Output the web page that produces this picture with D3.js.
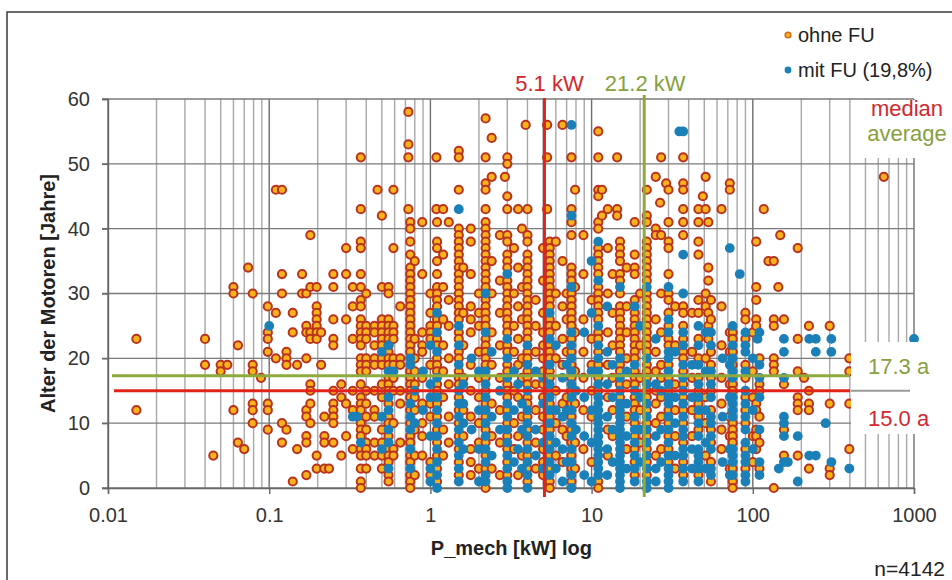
<!DOCTYPE html>
<html>
<head>
<meta charset="utf-8">
<script src="https://cdn.jsdelivr.net/npm/d3@7"></script>
<style>
  html, body { margin: 0; padding: 0; background: #fff; }
  svg { display: block; font-family: "Liberation Sans", Arial, sans-serif; }
</style>
</head>
<body>
<script>
// ---- data -----------------------------------------------------------------
// P_mech in kW and motor age in years, one entry per column of dots

var ohneKW = [0.015, 0.04, 0.045, 0.05, 0.055, 0.06, 0.064, 0.07, 0.074, 0.079, 0.089, 0.098,
  0.11, 0.12, 0.128, 0.14, 0.149, 0.16, 0.17, 0.18, 0.197, 0.21, 0.22, 0.235, 0.25, 0.28, 0.3,
  0.33, 0.37, 0.4, 0.45, 0.47, 0.5, 0.55, 0.59, 0.65, 0.73, 0.75, 0.8, 0.89, 1.0, 1.09, 1.1,
  1.2, 1.3, 1.5, 1.6, 1.78, 2.0, 2.2, 2.4, 2.7, 2.9, 3.0, 3.3, 3.5, 3.7, 3.9, 4.0, 4.5, 5.0,
  5.3, 5.5, 6.0, 6.6, 7.0, 7.5, 7.9, 8.9, 10, 11, 11.6, 12.6, 13.5, 14.4, 15, 16.5, 18.5, 20,
  22, 25, 26.6, 27, 29, 30, 33, 37, 42, 46, 49, 51, 53, 55, 64, 72, 75, 90, 100, 105, 110, 117,
  125, 135, 144, 148, 156, 190, 208, 223, 300, 397, 650]

var ohneJahre = [
  [23, 12], [23, 19], [5], [19, 18], [19], [31, 30, 12], [22, 7], [6], [34],
  [30, 19, 18, 13, 12, 10], [17], [28, 24, 23, 21, 13, 12, 9],
  [46, 27, 20], [46, 33, 30, 10, 7], [21, 20, 19, 9], [27, 24, 1], [19, 6], [33, 30],
  [30, 25, 24, 20, 12, 11, 8, 7, 2], [39, 31, 24, 23, 16, 15, 13, 10],
  [31, 28, 27, 26, 25, 24, 23, 5, 3], [24, 19], [11, 8, 7, 3], [3],
  [33, 31, 26, 23, 22, 15, 13, 12, 11, 10, 7], [16, 14, 5], [37, 33, 26, 13, 8],
  [31, 28, 23, 15, 12, 6],
  [51, 43, 38, 37, 33, 31, 29, 28, 26, 25, 24, 23, 22, 20, 19, 18, 16, 14, 13, 12, 10, 9, 8, 6, 5, 3, 1, 0],
  [30, 25, 24, 23, 20, 19, 18, 15, 13, 11, 9, 7, 6, 5, 3],
  [25, 24, 22, 20, 19, 15, 12, 11, 7, 5], [46],
  [42, 31, 26, 25, 24, 23, 22, 20, 19, 16, 14, 9, 7, 5, 3],
  [31, 30, 26, 25, 24, 23, 22, 21, 20, 19, 17, 16, 15, 13, 11, 10, 8, 6, 5, 4, 2, 1],
  [46, 37, 25, 24, 23, 20, 19, 17, 15, 10, 6, 5],
  [28, 20, 19, 15, 13, 7],
  [58, 53, 51, 43],
  [41, 40, 38, 36, 34, 33, 32, 31, 30, 29, 28, 27, 26, 25, 24, 23, 22, 21, 18, 17, 16, 15, 14, 12, 10, 8, 7, 5, 4, 2, 1, 0],
  [35, 23, 20, 18, 16, 14, 12, 9, 5, 2],
  [41, 33, 24, 22, 21, 17, 13, 10, 8, 5],
  [30, 27, 25, 24, 23, 19, 13, 11, 4, 2],
  [51, 43],
  [41, 38, 37, 35, 33, 31, 30, 29, 28, 26, 25, 23, 22, 20, 19, 18, 16, 15, 13, 11, 9, 7, 5, 3, 1],
  [43, 36, 31, 26, 22, 18, 14, 9, 5],
  [41, 29, 25, 20, 16, 11, 7],
  [52, 51, 46, 40, 39, 38, 37, 36, 35, 34, 33, 32, 31, 30, 29, 28, 27, 26, 24, 23, 21, 20, 18, 17, 16, 14, 12, 10, 8, 6, 4, 2],
  [34, 27, 22, 17, 12, 8],
  [40, 38, 33, 28, 26, 24, 19, 15, 11, 6, 4, 2],
  [30, 27, 25, 21, 17, 14, 10, 7, 3],
  [57, 51, 47, 46, 43, 41, 40, 39, 38, 37, 36, 35, 34, 33, 32, 31, 29, 28, 27, 26, 25, 23, 22, 21, 20, 19, 17, 15, 13, 11, 9, 7, 5, 3, 0],
  [54, 48, 35, 30, 24, 19, 13, 8, 3],
  [39, 32, 27, 22, 17, 12, 7, 2],
  [48],
  [51, 50, 45, 43, 39, 38, 36, 35, 34, 32, 31, 30, 29, 28, 27, 26, 25, 24, 22, 21, 19, 18, 16, 15, 14, 12, 10, 8, 6, 4, 2],
  [37, 30, 25, 21, 15, 10, 6],
  [43, 34, 28, 23, 19, 14, 8, 2],
  [40, 31, 26, 20, 17, 11, 5],
  [56],
  [43, 39, 38, 36, 35, 34, 33, 32, 31, 30, 29, 28, 27, 26, 25, 24, 23, 21, 20, 18, 17, 16, 14, 13, 11, 9, 7, 5, 3, 1],
  [29, 25, 21, 16, 12, 7, 3],
  [37, 32, 27, 24, 22, 20, 18, 16, 14, 11, 9, 6, 4, 2],
  [56, 51, 43],
  [38, 37, 36, 35, 34, 33, 32, 31, 30, 29, 28, 26, 25, 24, 22, 21, 20, 18, 17, 15, 13, 11, 9, 7, 5, 3, 1, 0],
  [38, 30, 25, 20, 15, 10, 5],
  [56, 35, 28, 23, 19, 13, 9, 4],
  [30, 26, 21, 14, 8],
  [51, 43, 41, 39, 34, 33, 32, 30, 29, 28, 27, 26, 25, 23, 21, 19, 17, 15, 13, 11, 9, 7, 5, 3, 1],
  [46, 31, 24, 18, 13, 7, 3],
  [39, 33, 26, 21, 17, 12, 6],
  [29, 23, 19, 15, 11, 4],
  [55, 51, 46, 45, 41, 40, 37, 36, 35, 34, 33, 31, 30, 29, 28, 27, 26, 24, 23, 21, 19, 17, 15, 1, 0],
  [46, 42],
  [43, 37, 30, 24, 19, 14, 9, 5],
  [33, 27, 22, 17, 12, 8],
  [51, 43, 42],
  [38, 37, 36, 35, 33, 32, 30, 28, 27, 26, 25, 24, 23, 22, 21, 19, 18, 16, 14],
  [34, 28, 24, 20, 16, 11, 6],
  [41, 36, 34, 33, 29, 27, 26, 25, 24, 23, 22, 21, 20, 18, 17, 16, 14, 13, 12, 10, 8, 6, 4, 2],
  [30, 22, 17, 12, 7],
  [46, 42, 41, 38, 37, 36, 35, 34, 33, 32, 30, 29, 28, 27, 26, 25, 24, 23, 22, 21, 19, 18, 17, 15, 14, 12, 10, 8, 6, 4, 2],
  [48, 40, 39, 26, 21, 18, 15, 13, 10, 5],
  [44],
  [51, 39, 30, 24, 19, 17, 14, 11, 6],
  [47],
  [46, 41, 38, 37, 33, 30, 29, 27, 25, 23, 22, 19, 17, 15, 12, 10, 8, 6, 4],
  [28, 22, 16, 12, 8, 3],
  [51, 47, 46, 43, 41, 39, 28, 27, 25, 23, 21, 20, 18, 16, 14, 12, 10, 7, 4, 2],
  [27, 21, 17, 12, 8],
  [43, 41, 38, 36, 29, 27, 23, 20, 17, 15, 13, 11, 9, 2],
  [45],
  [48, 43, 30, 28, 20, 14, 10, 5],
  [41, 34, 32, 27, 25, 24, 23],
  [29, 26, 21, 19, 17, 15, 12, 9, 7, 4, 1],
  [43, 28, 22, 17, 13, 9, 6],
  [47, 46, 24, 21, 16, 11, 8, 3],
  [24, 23, 21, 19, 16, 15, 10, 9, 8, 7, 3, 1, 0],
  [27, 26, 23, 19, 17, 14, 12, 10, 6, 3],
  [24, 18, 14, 8, 4],
  [38, 31, 29, 26, 25, 13, 12, 9, 8, 6],
  [20, 16, 15, 11, 7, 3],
  [43],
  [35],
  [35, 26, 25, 20, 19, 18, 0],
  [31],
  [39],
  [26, 16, 9, 5],
  [37, 23, 18, 14, 13, 12, 5],
  [17],
  [25, 15, 13, 12, 3],
  [25, 13, 3, 2],
  [20, 18, 13, 6],
  [48]
]

var mitKW = [0.1, 0.33, 0.35, 0.37, 0.5, 0.55, 0.59, 0.75, 0.8, 0.9, 1.0, 1.1, 1.5, 1.6, 1.8,
  2.0, 2.2, 2.4, 2.7, 3.0, 3.3, 3.5, 3.7, 4.0, 4.5, 5.0, 5.5, 6.0, 6.6, 7.0, 7.5, 8, 9, 10, 11,
  12.5, 13.5, 15, 16.5, 18.5, 20, 22, 25, 27, 30, 33, 35, 37, 42, 46, 51, 55, 65, 72, 75, 83,
  90, 100, 107, 110, 145, 156, 165, 190, 224, 246, 283, 307, 397, 1000]

var mitJahre = [
  [25], [11], [11], [7], [21, 11, 6], [22, 18, 14, 12, 9, 7, 3], [18],
  [20, 19, 13, 11, 9, 6, 3], [15, 10], [18, 12], [22, 16, 14, 8, 3, 1],
  [27, 24, 21, 17, 14, 12, 10, 8, 6, 4, 2, 0],
  [43, 25, 22, 19, 15, 13, 11, 9, 7, 5, 3, 1],
  [16, 13, 10, 6], [20, 9], [18, 12, 6, 1],
  [30, 24, 18, 16, 14, 12, 10, 8, 6, 4, 2, 1],
  [21, 11, 5], [15, 9],
  [33, 23, 20, 17, 13, 11, 9, 7, 5, 3, 1, 0],
  [18, 12, 4], [16, 6], [13, 9, 3],
  [22, 19, 15, 12, 10, 8, 6, 4, 2, 0],
  [18, 9, 5], [17, 13, 7, 3],
  [27, 23, 19, 16, 14, 12, 10, 8, 6, 4, 2],
  [22, 12, 7, 3], [17, 11, 6, 1], [19, 12, 4],
  [56, 42, 31, 24, 22, 20, 18, 16, 14, 12, 10, 8, 6, 4, 2, 0],
  [15, 9], [24, 14, 8, 2], [35, 27, 18, 12, 7, 1],
  [38, 32, 25, 22, 20, 18, 16, 14, 13, 12, 11, 10, 9, 8, 7, 6, 5, 4, 3, 2],
  [28, 21, 16, 11, 6, 2], [19, 14, 9, 4],
  [31, 20, 17, 15, 13, 12, 11, 10, 9, 8, 7, 6, 5, 4, 3, 2, 1, 0],
  [18, 13, 8, 3],
  [28, 19, 15, 11, 9, 7, 5, 3, 1],
  [25, 14, 9, 4],
  [31, 20, 16, 13, 11, 9, 7, 5, 3, 1, 0],
  [23, 16, 8, 3, 1], [15, 9, 4],
  [31, 26, 24, 21, 20, 18, 16, 14, 13, 11, 9, 7, 5, 3, 2, 1, 0],
  [21, 14, 10, 5], [55],
  [55, 36, 30, 24, 22, 19, 17, 15, 13, 11, 9, 8, 6, 5, 3, 1],
  [19, 14, 6, 3],
  [25, 22, 19, 16, 14, 12, 10, 8, 6, 5, 4, 3, 1],
  [24, 18, 12, 7, 3],
  [24, 22, 18, 16, 14, 11, 10, 8, 6, 3, 2],
  [20, 11, 4], [37, 19, 14, 6, 2],
  [25, 22, 20, 18, 17, 14, 13, 12, 11, 6, 5, 4, 2],
  [33],
  [24, 22, 21, 18, 15, 13, 11, 9, 7, 5, 4, 2, 1],
  [20, 12, 6], [23], [24, 19, 17, 14, 9, 4, 2],
  [3], [23, 21, 17, 11, 10, 8, 4], [4], [8, 1], [23, 5], [23, 21, 5], [10], [23, 21, 4], [3], [23]
]

var xTicks = [0.01, 0.1, 1, 10, 100, 1000]
var yTicks = [0, 10, 20, 30, 40, 50, 60]
var medianKW = 5.1, averageKW = 21.2
var medianAge = 15.0, averageAge = 17.3
var nTotal = 4142

// ---- layout ----------------------------------------------------------------
var W = 952, H = 580
var red = "#e2231a", green = "#8faa3c"
var redText = "#d0282e", greenText = "#87a040"
var orangeFill = "#f7b21c", orangeStroke = "#b8321e", blue = "#1b7fb8"

var x = d3.scaleLog().domain([0.01, 1000]).range([108, 914])
var y = d3.scaleLinear().domain([0, 60]).range([488, 99])

function flatten(kw, ages) {
  var pts = []
  kw.forEach(function(p, i) {
    ages[i].forEach(function(a) { pts.push({ p: p, a: a }) })
  })
  return pts
}
var ohne = flatten(ohneKW, ohneJahre)
var mit = flatten(mitKW, mitJahre)

var svg = d3.select("body").append("svg").attr("width", W).attr("height", H)

// outer frame (right/bottom sides fall outside the picture)
svg.append("rect").attr("x", 7).attr("y", 12).attr("width", 1000).attr("height", 700)
  .style("fill", "none").style("stroke", "#3a3a3a").style("stroke-width", 1.5)

// grid
var grid = svg.append("g")
var minor = x.ticks()
grid.selectAll(".vg").data(minor).enter().append("line")
  .attr("x1", function(d) { return x(d) }).attr("x2", function(d) { return x(d) })
  .attr("y1", y(60)).attr("y2", y(0))
  .style("stroke", function(d) { return xTicks.indexOf(d) >= 0 ? "#6e6e6e" : "#a8a8a8" })
  .style("stroke-width", 1.4)
grid.selectAll(".hg").data(yTicks).enter().append("line")
  .attr("x1", x(0.01) - 6).attr("x2", x(1000))
  .attr("y1", function(d) { return y(d) }).attr("y2", function(d) { return y(d) })
  .style("stroke", "#7a7a7a").style("stroke-width", 1.4)

// x axis
var xAxis = svg.append("g").attr("transform", "translate(0," + y(0) + ")")
  .call(d3.axisBottom(x).tickValues(xTicks).tickFormat(d3.format("~g")).tickSize(6).tickPadding(14))
xAxis.select(".domain").style("stroke", "#666").style("stroke-width", 1.4)
xAxis.selectAll(".tick line").style("stroke", "#666").style("stroke-width", 1.4)
xAxis.selectAll("text").style("font-size", "20px").style("fill", "#333")
  .style("font-family", "'Liberation Sans', Arial, sans-serif")

// y axis
var yAxis = svg.append("g").attr("transform", "translate(" + x(0.01) + ",0)")
  .call(d3.axisLeft(y).tickValues(yTicks).tickSize(6).tickPadding(12))
yAxis.select(".domain").style("stroke", "#666").style("stroke-width", 1.4)
yAxis.selectAll(".tick line").style("stroke", "#666").style("stroke-width", 1.4)
yAxis.selectAll("text").style("font-size", "20px").style("fill", "#333")
  .style("font-family", "'Liberation Sans', Arial, sans-serif")

// points
svg.append("g").selectAll("circle").data(ohne).enter().append("circle")
  .attr("cx", function(d) { return x(d.p) }).attr("cy", function(d) { return y(d.a) })
  .attr("r", 4.1)
  .style("fill", orangeFill).style("stroke", orangeStroke).style("stroke-width", 2)
svg.append("g").selectAll("circle").data(mit).enter().append("circle")
  .attr("cx", function(d) { return x(d.p) }).attr("cy", function(d) { return y(d.a) })
  .attr("r", 4.9)
  .style("fill", blue)

// white label boxes inside the plot
svg.append("rect").attr("x", 855).attr("y", y(60) + 1).attr("width", 62).attr("height", 58).style("fill", "#fff")
svg.append("rect").attr("x", 851).attr("y", 342).attr("width", 66).attr("height", 92).style("fill", "#fff")
svg.append("line").attr("x1", 851).attr("x2", 910).attr("y1", y(medianAge)).attr("y2", y(medianAge))
  .style("stroke", "#9a9a9a").style("stroke-width", 2)

// median / average lines
svg.append("line").attr("x1", 112).attr("x2", 850).attr("y1", y(averageAge)).attr("y2", y(averageAge))
  .style("stroke", green).style("stroke-width", 3)
svg.append("line").attr("x1", 114).attr("x2", 850).attr("y1", y(medianAge)).attr("y2", y(medianAge))
  .style("stroke", red).style("stroke-width", 3)
svg.append("line").attr("x1", x(medianKW)).attr("x2", x(medianKW)).attr("y1", 98).attr("y2", 497)
  .style("stroke", red).style("stroke-width", 3)
svg.append("line").attr("x1", x(averageKW)).attr("x2", x(averageKW)).attr("y1", 95).attr("y2", 497)
  .style("stroke", green).style("stroke-width", 3)

// labels
function label(tx, ty, s, color, size, anchor, weight) {
  return svg.append("text").attr("x", tx).attr("y", ty).text(s)
    .style("fill", color).style("font-size", size + "px")
    .attr("text-anchor", anchor || "middle").style("font-weight", weight || "normal")
}
label(x(medianKW) + 5, 91, medianKW.toFixed(1) + " kW", redText, 22)
label(x(averageKW) + 1, 91, averageKW.toFixed(1) + " kW", greenText, 22)
label(907, 116, "median", redText, 22)
label(907, 141, "average", greenText, 22)
label(868, 374, averageAge.toFixed(1) + " a", greenText, 22, "start")
label(868, 426, medianAge.toFixed(1) + " a", redText, 22, "start")

// legend
svg.append("circle").attr("cx", 788).attr("cy", 35).attr("r", 2.8)
  .style("fill", orangeFill).style("stroke", "#d2691e").style("stroke-width", 1.6)
label(798, 42, "ohne FU", "#222", 20, "start")
svg.append("circle").attr("cx", 788).attr("cy", 70).attr("r", 3.4).style("fill", blue)
label(798, 77, "mit FU (19,8%)", "#222", 20, "start")

// axis titles
label(x(1) + 81, 555, "P_mech [kW] log", "#222", 20, "middle", "bold")
svg.append("text").attr("transform", "translate(55," + (y(30)) + ") rotate(-90)")
  .attr("text-anchor", "middle").style("font-size", "20px").style("font-weight", "bold")
  .style("fill", "#222").text("Alter der Motoren [Jahre]")
label(945, 576, "n=" + nTotal, "#222", 21, "end")
</script>
</body>
</html>
